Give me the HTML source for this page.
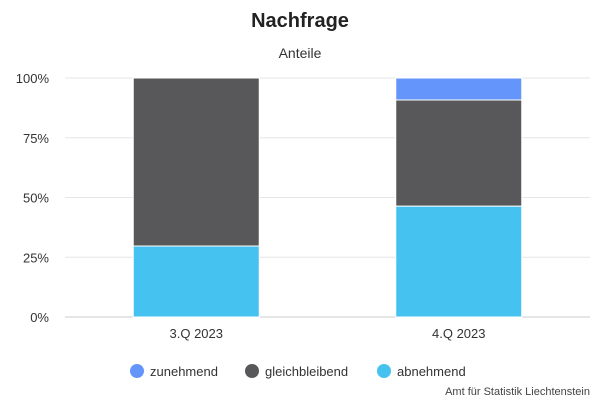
<!DOCTYPE html>
<html><head><meta charset="utf-8"><style>
body{margin:0;background:#fff;font-family:"Liberation Sans",sans-serif;}
svg text{font-family:"Liberation Sans",sans-serif;}
</style></head><body>
<svg width="600" height="400">
<text x="300" y="27" text-anchor="middle" font-size="20" font-weight="bold" fill="#222">Nachfrage</text>
<text x="300" y="58" text-anchor="middle" font-size="14" fill="#333">Anteile</text>
<g id="grid"></g><g id="bars"></g><g id="xlab"></g>
<g>
<g><circle cx="137" cy="371" r="7" fill="#6495fa"/><text x="150" y="376" font-size="13" fill="#333">zunehmend</text></g>
<g><circle cx="252" cy="371" r="7" fill="#58585a"/><text x="265" y="376" font-size="13" fill="#333">gleichbleibend</text></g>
<g><circle cx="384" cy="371" r="7" fill="#45c2f0"/><text x="397" y="376" font-size="13" fill="#333">abnehmend</text></g>
</g>
<text x="590" y="395" text-anchor="end" font-size="11" fill="#444">Amt für Statistik Liechtenstein</text>
</svg>
<script>
const categories=["3.Q 2023","4.Q 2023"];
const abnehmend=[29.7,46.4];
const gleichbleibend=[70.3,44.4];
const zunehmend=[0,9.2];
const ticks=[0,25,50,75,100];
const tickLabels=["0%","25%","50%","75%","100%"];
const ns="http://www.w3.org/2000/svg";
const x0=65,x1=590,yTop=78,yBot=317;
const y=v=>yBot-(v/100)*(yBot-yTop);
const bw=(x1-x0)/categories.length;
const cx=i=>x0+bw*(i+0.5);
function mk(t,a,p){const e=document.createElementNS(ns,t);for(const k in a)e.setAttribute(k,a[k]);p.appendChild(e);return e;}
const g=document.getElementById('grid');
ticks.forEach((t,i)=>{
 const l=mk('line',{x1:x0,x2:x1,y1:y(t),y2:y(t),stroke:t===0?'#ccc':'#e6e6e6'},g);
 
 
 const tx=mk('text',{x:49,y:y(t)+5,'text-anchor':'end','font-size':'13',fill:'#333'},g);
 tx.textContent=tickLabels[i];
 
 
});
const b=document.getElementById('bars');
const series=[[abnehmend,'#45c2f0','abnehmend'],[gleichbleibend,'#58585a','gleichbleibend'],[zunehmend,'#6495fa','zunehmend']];
categories.forEach((c,i)=>{
 let acc=0;
 series.forEach(([arr,col,nm])=>{
  const v=arr[i]; if(v<=0)return;
  const r=mk('rect',{x:cx(i)-63,width:126,y:y(acc+v),height:y(acc)-y(acc+v),fill:col,stroke:'#fff','stroke-width':1},b);
  
  
  acc+=v;
 });
 const t=mk('text',{x:cx(i),y:338,'text-anchor':'middle','font-size':'13',fill:'#333'},document.getElementById('xlab'));
 t.textContent=c;
 
 
});
</script>
</body></html>
